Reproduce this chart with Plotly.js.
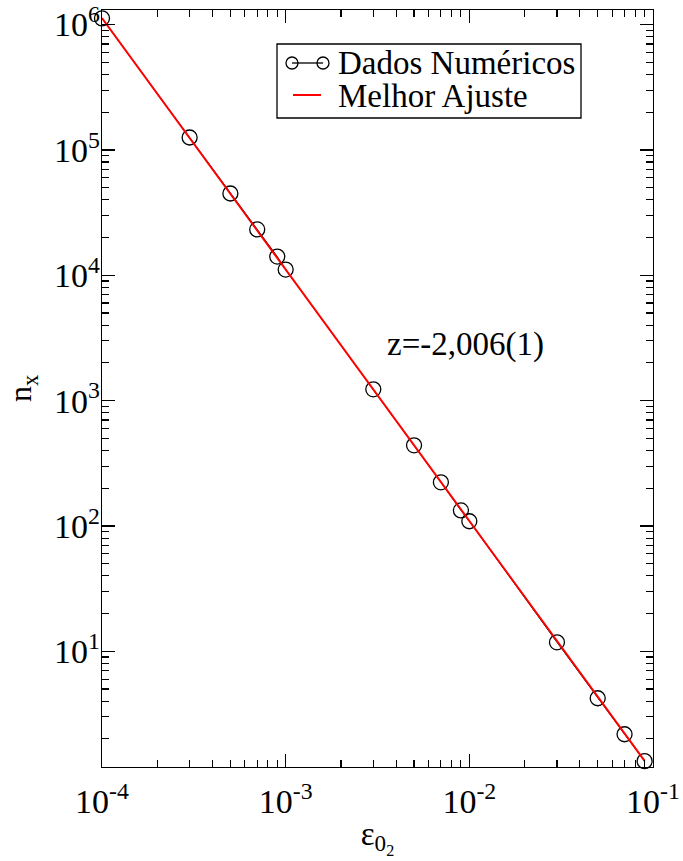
<!DOCTYPE html>
<html>
<head>
<meta charset="utf-8">
<script src="https://cdn.plot.ly/plotly-3.0.1.min.js"></script>
<style>html,body{margin:0;padding:0;background:#fff;}#chart{width:683px;height:861px;}</style>
</head>
<body>
<div id="chart"></div>
<script>
// Numerical data
const epsilon = [1e-4, 3e-4, 5e-4, 7e-4, 9e-4, 1e-3, 3e-3, 5e-3, 7e-3, 9e-3, 1e-2, 3e-2, 5e-2, 7e-2, 9e-2];
const nx = [1.12e6, 1.256e5, 4.49e4, 2.32e4, 1.41e4, 1.11e4, 1.23e3, 440, 223, 133, 109, 11.8, 4.22, 2.18, 1.33];
// Best-fit line endpoints
const fitEps = [1e-4, 9e-2];
const fitN = [1.126e6, 1.337];
const seriesNames = ["Dados Numéricos", "Melhor Ajuste"];
const fitLabel = "z=-2,006(1)";
// Tick labels
const xTickVals = [1e-4, 1e-3, 1e-2, 1e-1];
const xTickText = ["10<sup>-4</sup>", "10<sup>-3</sup>", "10<sup>-2</sup>", "10<sup>-1</sup>"];
const yTickVals = [1e1, 1e2, 1e3, 1e4, 1e5, 1e6];
const yTickText = ["10<sup>1</sup>", "10<sup>2</sup>", "10<sup>3</sup>", "10<sup>4</sup>", "10<sup>5</sup>", "10<sup>6</sup>"];

const FONT = "Liberation Serif, Times New Roman, serif";
const W = 683, H = 861;
const M = {l: 102, r: 30, t: 10, b: 94};
const PW = W - M.l - M.r, PH = H - M.t - M.b;
const px = v => (v - M.l) / PW;          // pixel x -> paper x
const py = v => 1 - (v - M.t) / PH;      // pixel y -> paper y

function minorVals(decades) {
  const out = [];
  decades.forEach(d => { for (let m = 2; m <= 9; m++) out.push(m * Math.pow(10, d)); });
  return out;
}

const traces = [
  {
    x: epsilon, y: nx, name: seriesNames[0], type: "scatter", mode: "lines+markers",
    cliponaxis: false,
    line: {color: "#000", width: 1},
    marker: {symbol: "circle-open", size: 15, color: "#000", line: {width: 1.3, color: "#000"}}
  },
  {
    x: fitEps, y: fitN, name: seriesNames[1], type: "scatter", mode: "lines",
    cliponaxis: false,
    line: {color: "#ff0000", width: 2}
  }
];

const axisCommon = {
  type: "log",
  showgrid: false, zeroline: false,
  showline: true, linecolor: "#000", linewidth: 1.3, mirror: "allticks",
  ticks: "inside", ticklen: 13, tickwidth: 1.3, tickcolor: "#000",
  tickmode: "array",
  tickfont: {family: FONT, size: 34, color: "#000"}
};

// Legend (drawn as a boxed key to match the reference's compact spacing)
const legBox = {x0: 277, x1: 581, y0: 44, y1: 118};
const row1 = 63, row2 = 96, textX = 336;
const shapes = [
  {type: "rect", xref: "paper", yref: "paper", x0: px(legBox.x0), x1: px(legBox.x1), y0: py(legBox.y0), y1: py(legBox.y1),
   line: {color: "#000", width: 1.3}, fillcolor: "#fff", layer: "above"},
  {type: "line", xref: "paper", yref: "paper", x0: px(292), x1: px(323), y0: py(row1), y1: py(row1),
   line: {color: "#000", width: 1.3}, layer: "above"},
  {type: "circle", xref: "paper", yref: "paper", xsizemode: "pixel", ysizemode: "pixel",
   xanchor: px(292), yanchor: py(row1), x0: -6, x1: 6, y0: -6, y1: 6,
   line: {color: "#000", width: 1.3}, fillcolor: "rgba(0,0,0,0)", layer: "above"},
  {type: "circle", xref: "paper", yref: "paper", xsizemode: "pixel", ysizemode: "pixel",
   xanchor: px(323), yanchor: py(row1), x0: -6, x1: 6, y0: -6, y1: 6,
   line: {color: "#000", width: 1.3}, fillcolor: "rgba(0,0,0,0)", layer: "above"},
  {type: "line", xref: "paper", yref: "paper", x0: px(293), x1: px(321), y0: py(row2 - 1), y1: py(row2 - 1),
   line: {color: "#ff0000", width: 2}, layer: "above"}
];

const layout = {
  width: W, height: H,
  margin: M,
  paper_bgcolor: "#fff", plot_bgcolor: "#fff",
  font: {family: FONT, color: "#000"},
  showlegend: false,
  xaxis: Object.assign({}, axisCommon, {
    range: [-4, -1],
    tickvals: xTickVals, ticktext: xTickText,
    ticklabelstandoff: 4,
    minor: {tickmode: "array", tickvals: minorVals([-4, -3, -2]), ticks: "inside", ticklen: 7, tickwidth: 1.1, tickcolor: "#000", showgrid: false},
    title: {text: "ε<sub>0<sub>2</sub></sub>", font: {family: FONT, size: 33, color: "#000"}, standoff: 2}
  }),
  yaxis: Object.assign({}, axisCommon, {
    range: [0.077, 6.116],
    tickvals: yTickVals, ticktext: yTickText,
    ticklabelstandoff: -6,
    minor: {tickmode: "array", tickvals: minorVals([0, 1, 2, 3, 4, 5, 6]), ticks: "inside", ticklen: 7, tickwidth: 1.1, tickcolor: "#000", showgrid: false},
    title: {text: "n<sub>x</sub>", font: {family: FONT, size: 32, color: "#000"}, standoff: 12}
  }),
  shapes: shapes,
  annotations: [
    {xref: "paper", yref: "paper", x: px(textX), y: py(row1), text: seriesNames[0], showarrow: false,
     font: {family: FONT, size: 33, color: "#000"}, xanchor: "left", yanchor: "middle"},
    {xref: "paper", yref: "paper", x: px(textX), y: py(row2), text: seriesNames[1], showarrow: false,
     font: {family: FONT, size: 33, color: "#000"}, xanchor: "left", yanchor: "middle"},
    {xref: "paper", yref: "paper", x: px(465), y: py(344), text: fitLabel, showarrow: false,
     font: {family: FONT, size: 33, color: "#000"}, xanchor: "center", yanchor: "middle"}
  ]
};

Plotly.newPlot("chart", traces, layout, {displayModeBar: false, staticPlot: true});
</script>
</body>
</html>
